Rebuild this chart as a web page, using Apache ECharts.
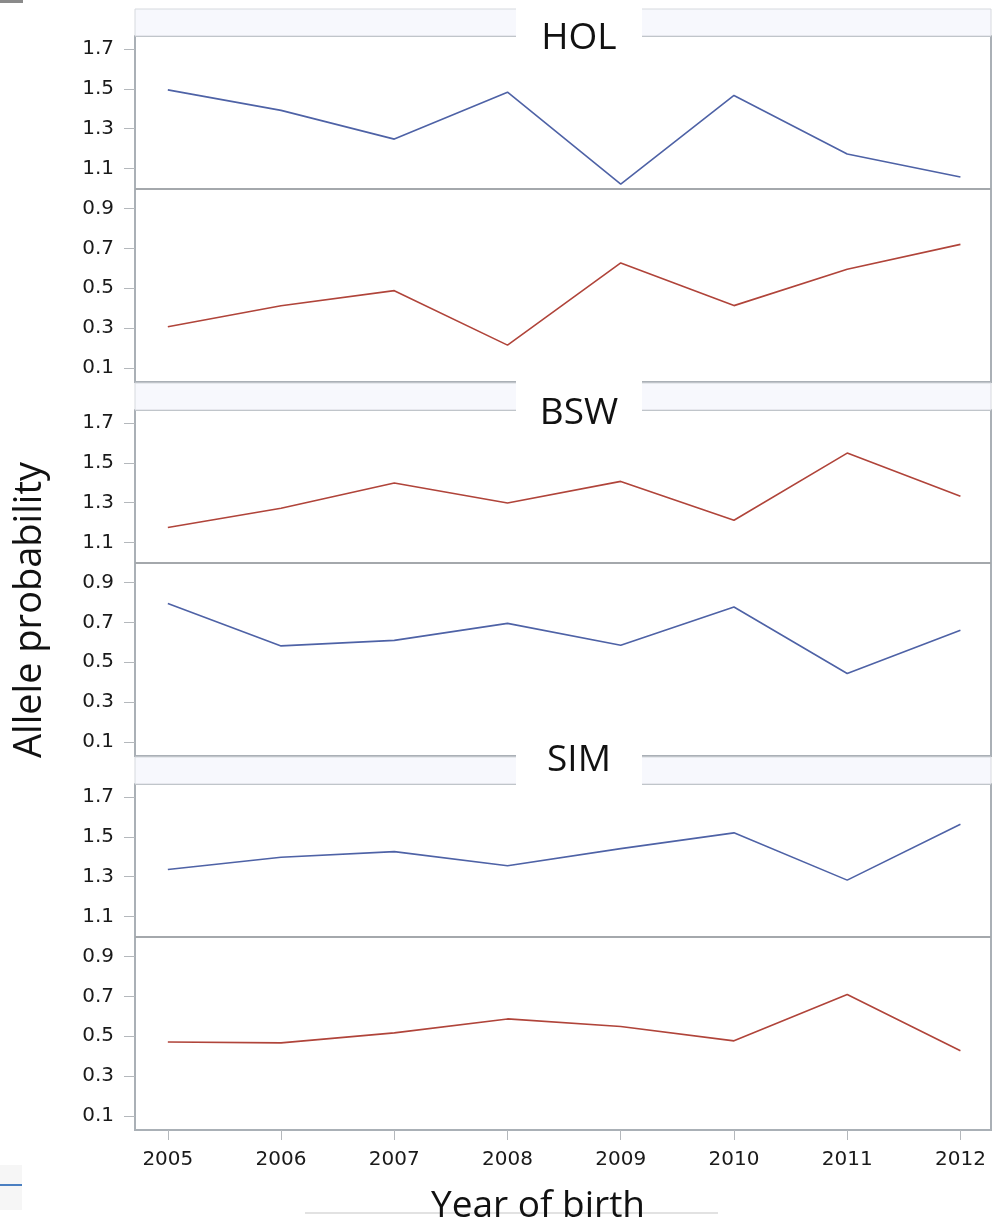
<!DOCTYPE html>
<html>
<head>
<meta charset="utf-8">
<script src="https://cdn.jsdelivr.net/npm/echarts@6/dist/echarts.min.js"></script>
<style>
  body { margin: 0; background: #fff; }
  #chart { width: 992px; height: 1224px; }
</style>
</head>
<body>
<div id="chart"></div>
<script>
// data
const years = [2005, 2006, 2007, 2008, 2009, 2010, 2011, 2012];
const breeds = ['HOL', 'BSW', 'SIM'];
const yTicks = [0.1, 0.3, 0.5, 0.7, 0.9, 1.1, 1.3, 1.5, 1.7];

const holBlue = [1.495, 1.392, 1.248, 1.483, 1.022, 1.467, 1.173, 1.058];
const holRed  = [0.307, 0.412, 0.488, 0.215, 0.627, 0.413, 0.595, 0.720];
const bswRed  = [1.176, 1.272, 1.399, 1.299, 1.407, 1.212, 1.549, 1.332];
const bswBlue = [0.795, 0.582, 0.610, 0.695, 0.585, 0.777, 0.444, 0.660];
const simBlue = [1.336, 1.398, 1.426, 1.355, 1.441, 1.520, 1.283, 1.563];
const simRed  = [0.471, 0.467, 0.517, 0.587, 0.549, 0.477, 0.709, 0.427];

const panelSeries = [
  [holBlue, holRed],
  [bswRed, bswBlue],
  [simBlue, simRed]
];
const panelColors = [
  ['#4e62a6', '#b0443a'],
  ['#b0443a', '#4e62a6'],
  ['#4e62a6', '#b0443a']
];

const BLUE_GREY = '#aab0b6';
const panelTops = [36, 410, 784];
const panelHeight = 346;
const headerTops = [9, 383, 757];
const titleBoxes = [
  { y: 0, h: 58, cy: 38 },
  { y: 372, h: 62, cy: 413 },
  { y: 738, h: 52, cy: 760 }
];

const chart = echarts.init(document.getElementById('chart'));

const grids = [], xAxes = [], yAxes = [], series = [], graphics = [];

panelTops.forEach(function (top, i) {
  const last = i === panelTops.length - 1;
  grids.push({
    left: 135, right: 1, top: top, height: panelHeight,
    show: true, borderColor: BLUE_GREY, borderWidth: 2, backgroundColor: '#fff'
  });
  xAxes.push({
    type: 'value', gridIndex: i, min: 2004.71, max: 2012.27,
    splitLine: { show: false },
    axisLine: { show: last, lineStyle: { color: BLUE_GREY, width: 2 } },
    axisTick: { show: last, length: 10, customValues: years, lineStyle: { color: '#b4b8bc' } },
    axisLabel: {
      show: last, customValues: years, margin: 20,
      fontFamily: 'DejaVu Sans', fontSize: 20, color: '#1a1a1a',
      formatter: function (v) { return String(v); }
    }
  });
  yAxes.push({
    type: 'value', gridIndex: i, min: 0.03, max: 1.765,
    splitLine: { show: false },
    axisLine: { show: true, lineStyle: { color: BLUE_GREY, width: 2 } },
    axisTick: { show: true, length: 11, customValues: yTicks, lineStyle: { color: '#b4b8bc' } },
    axisLabel: {
      customValues: yTicks, margin: 21,
      fontFamily: 'DejaVu Sans', fontSize: 20, color: '#1a1a1a',
      formatter: function (v) { return v.toFixed(1); }
    }
  });
  panelSeries[i].forEach(function (vals, k) {
    const s = {
      type: 'line', xAxisIndex: i, yAxisIndex: i,
      data: years.map(function (y, j) { return [y, vals[j]]; }),
      symbol: 'none', silent: true,
      lineStyle: { color: panelColors[i][k], width: 1.6 }
    };
    if (k === 0) {
      s.markLine = {
        silent: true, symbol: 'none', label: { show: false },
        lineStyle: { color: '#a4a8ac', width: 2, type: 'solid' },
        data: [{ yAxis: 1.0 }]
      };
    }
    series.push(s);
  });

  // header strip above each panel
  graphics.push({
    type: 'rect', z: 1,
    shape: { x: 135, y: headerTops[i], width: 856, height: top - headerTops[i] },
    style: { fill: '#f7f8fd', stroke: '#d6d9de', lineWidth: 1 }
  });
  // white title box with the breed name
  const b = titleBoxes[i];
  graphics.push({
    type: 'rect', z: 100,
    shape: { x: 516, y: b.y, width: 126, height: b.h },
    style: { fill: '#fff' }
  });
  graphics.push({
    type: 'text', z: 101, x: 579, y: b.cy,
    style: {
      text: breeds[i], fontFamily: 'Open Sans', fontSize: 37, fill: '#111',
      align: 'center', verticalAlign: 'middle'
    }
  });
});

graphics.push({
  type: 'text', z: 101, x: 30, y: 610, rotation: Math.PI / 2,
  style: {
    text: 'Allele probability', fontFamily: 'Open Sans', fontSize: 38, fill: '#111',
    align: 'center', verticalAlign: 'middle'
  }
});
graphics.push({
  type: 'line', z: 50,
  shape: { x1: 305, y1: 1213, x2: 718, y2: 1213 },
  style: { stroke: '#e2e2e2', lineWidth: 2 }
});
graphics.push({
  type: 'text', z: 101, x: 538, y: 1206,
  style: {
    text: 'Year of birth', fontFamily: 'Open Sans', fontSize: 37, fill: '#111',
    align: 'center', verticalAlign: 'middle'
  }
});
// small leftovers at the page edge
graphics.push({ type: 'rect', z: 1, shape: { x: 0, y: 0, width: 23, height: 3 }, style: { fill: '#8a8a8a' } });
graphics.push({ type: 'rect', z: 1, shape: { x: 0, y: 1165, width: 22, height: 45 }, style: { fill: '#f6f6f6' } });
graphics.push({ type: 'line', z: 2, shape: { x1: 0, y1: 1185, x2: 22, y2: 1185 }, style: { stroke: '#4a7fc1', lineWidth: 2 } });

chart.setOption({
  animation: false,
  backgroundColor: '#fff',
  grid: grids,
  xAxis: xAxes,
  yAxis: yAxes,
  series: series,
  graphic: graphics
});
</script>
</body>
</html>
